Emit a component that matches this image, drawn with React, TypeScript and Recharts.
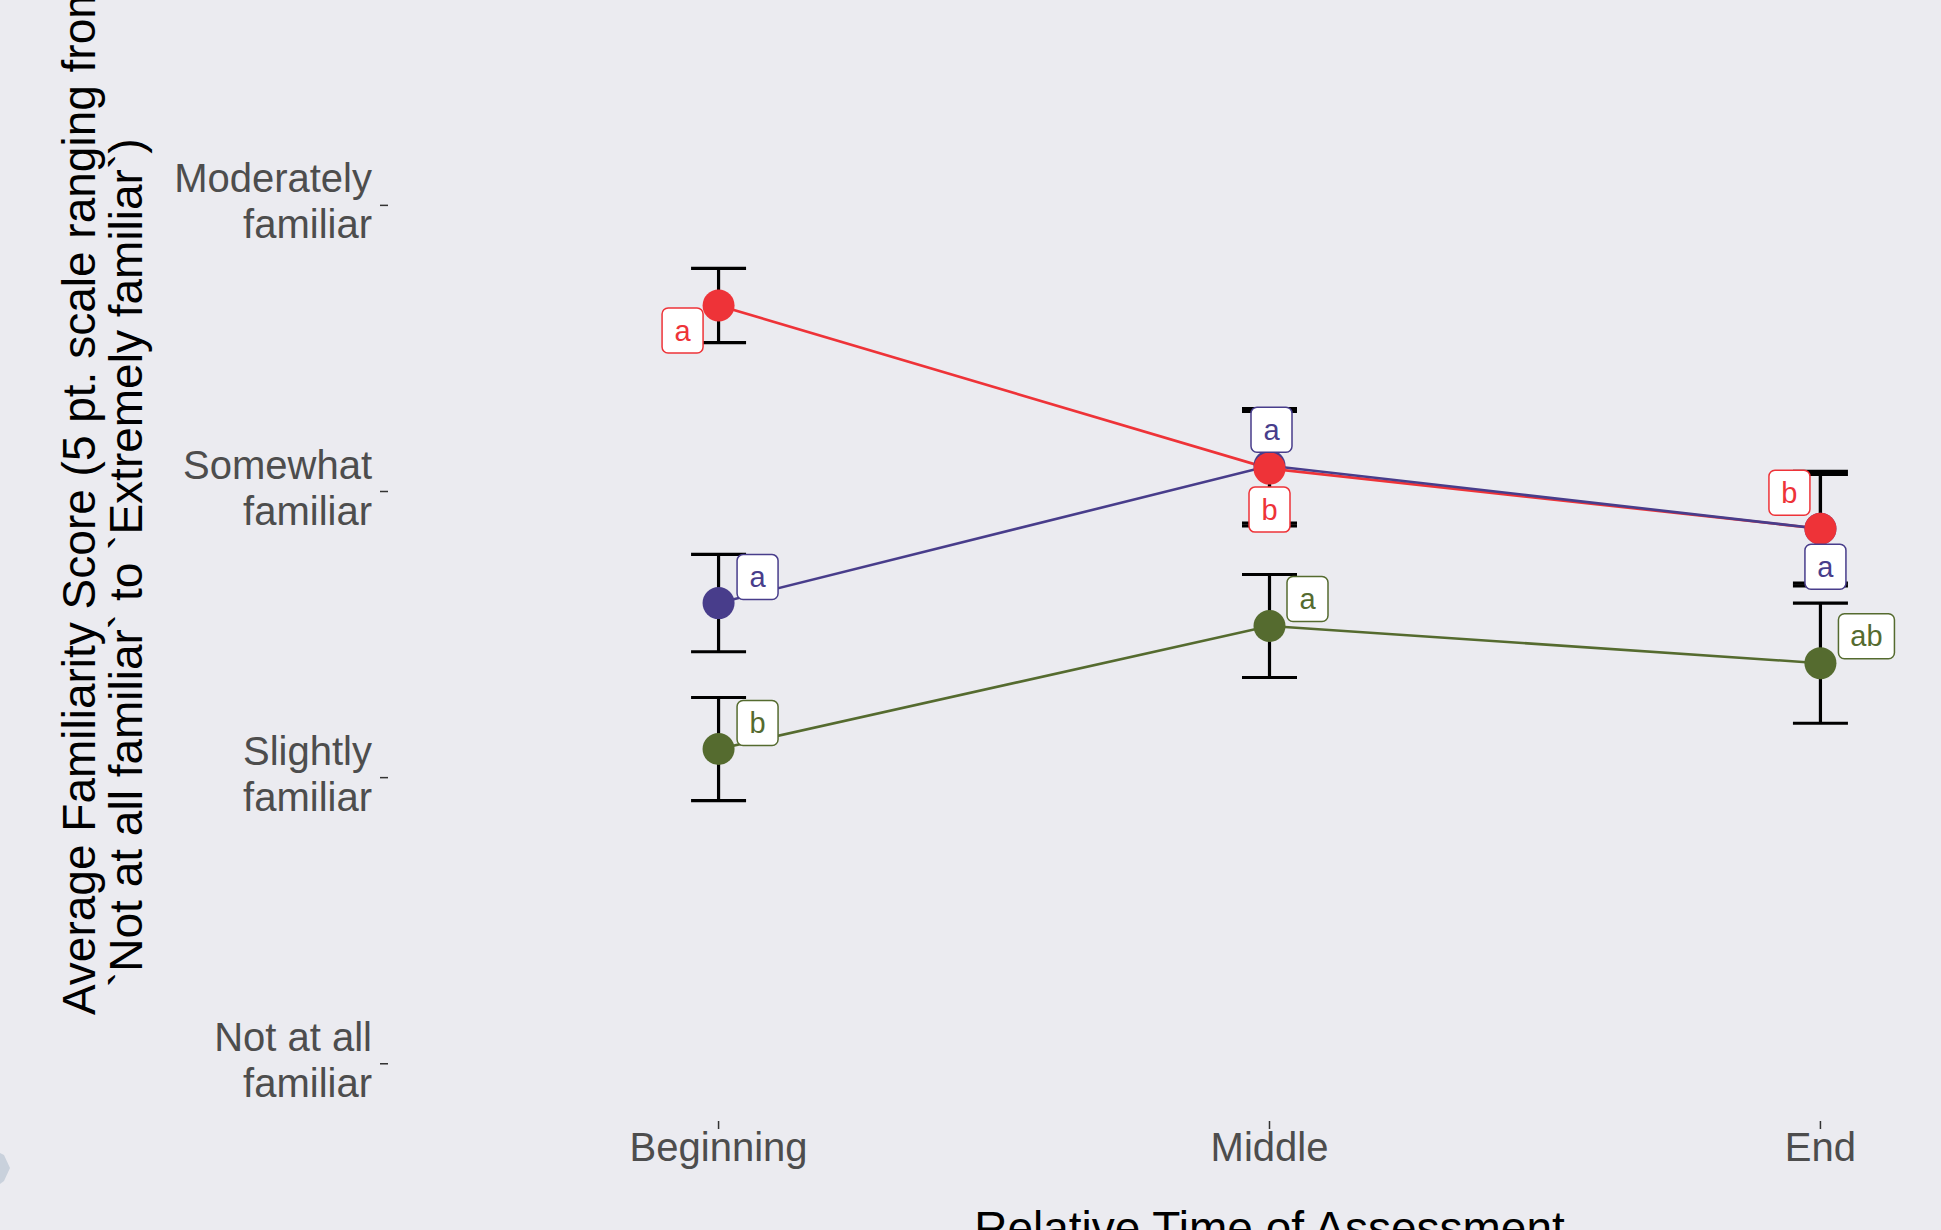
import { ErrorBar, LabelList, Line, LineChart, XAxis, YAxis } from "recharts";

// time points on the x axis
const times = ["Beginning", "Middle", "End"];

// group means and standard errors (5 pt. scale)
const redMean = [3.65, 3.08, 2.87];
const redSe = [0.13, 0.2, 0.19];
const redLetters = ["a", "b", "b"];

const blueMean = [2.61, 3.09, 2.87];
const blueSe = [0.17, 0.2, 0.2];
const blueLetters = ["a", "a", "a"];

const greenMean = [2.1, 2.53, 2.4];
const greenSe = [0.18, 0.18, 0.21];
const greenLetters = ["b", "a", "ab"];

// y scale levels and their labels
const scaleLevels = [1, 2, 3, 4, 5];
const scaleLabels = [
  "Not at all\nfamiliar",
  "Slightly\nfamiliar",
  "Somewhat\nfamiliar",
  "Moderately\nfamiliar",
  "Extremely\nfamiliar",
];

const data = times.map((t, i) => ({
  x: i + 1,
  time: t,
  red: redMean[i],
  redSe: redSe[i],
  redLet: redLetters[i],
  blue: blueMean[i],
  blueSe: blueSe[i],
  blueLet: blueLetters[i],
  green: greenMean[i],
  greenSe: greenSe[i],
  greenLet: greenLetters[i],
}));

const FONT = "'Liberation Sans', Arial, sans-serif";
const BG = "#ebebf0";
const RED = "#ee3338";
const BLUE = "#483d8b";
const GREEN = "#556b2f";

// repelled label placement (pixel nudges from each point)
const nudges: Record<string, [number, number][]> = {
  red: [[-36, 25], [0, 41], [-31, -36]],
  blue: [[39, -26], [2, -36], [5, 38]],
  green: [[39, -26], [38, -27], [46, -27]],
};

const makeLabel = (series: string, color: string) => (props: any) => {
  const vb = props.viewBox || {};
  const px = props.x ?? vb.x;
  const py = props.y ?? vb.y;
  const idx = props.index ?? 0;
  const text = String(props.value ?? "");
  const [dx, dy] = nudges[series][idx];
  const w = text.length > 1 ? 56 : 41;
  const h = 45;
  const cx = px + dx;
  const cy = py + dy;
  return (
    <g>
      <rect x={cx - w / 2} y={cy - h / 2} width={w} height={h} rx={6} fill="#fff" stroke={color} strokeWidth={1.5} />
      <text x={cx} y={cy} dy={10} textAnchor="middle" fill={color} fontSize={29} fontFamily={FONT}>
        {text}
      </text>
    </g>
  );
};

const YTick = (props: any) => {
  const { x, y, payload } = props;
  const lines = scaleLabels[payload.value - 1].split("\n");
  return (
    <text x={x} y={y} textAnchor="end" fill="#4d4d4d" fontSize={40} fontFamily={FONT}>
      <tspan x={x} dy={-13}>{lines[0]}</tspan>
      <tspan x={x} dy={46}>{lines[1]}</tspan>
    </text>
  );
};

const XTick = (props: any) => {
  const { x, y, payload } = props;
  return (
    <text x={x} y={y} dy={32} textAnchor="middle" fill="#4d4d4d" fontSize={40} fontFamily={FONT}>
      {times[payload.value - 1]}
    </text>
  );
};

const XTitle = (props: any) => {
  const vb = props.viewBox || { x: 0, y: 0, width: 0 };
  return (
    <text x={vb.x + vb.width / 2} y={vb.y + 123} textAnchor="middle" fill="#000" fontSize={46} fontFamily={FONT}>
      Relative Time of Assessment
    </text>
  );
};

const YTitle = () => (
  <g>
    <text transform="translate(95,1175) rotate(-90)" textAnchor="start" fill="#000" fontSize={46} fontFamily={FONT}>
      Average Familiarity Score (5 pt. scale ranging from
    </text>
    <text transform="translate(142,1147) rotate(-90)" textAnchor="start" fill="#000" fontSize={46} fontFamily={FONT}>
      `Not at all familiar` to `Extremely familiar`)
    </text>
  </g>
);

const series = [
  { key: "red", color: RED },
  { key: "blue", color: BLUE },
  { key: "green", color: GREEN },
];
const dotOrder = ["blue", "green", "red"];
const labelOrder = ["red", "green", "blue"];
const colorOf = (k: string) => series.find((s) => s.key === k)!.color;

export default function App() {
  return (
    <div style={{ width: 1941, height: 1230, overflow: "hidden", position: "relative", background: BG, fontFamily: FONT }}>
      <style>{"body{margin:0;overflow:hidden}"}</style>
      <div style={{ position: "absolute", left: 0, top: -160 }}>
        <LineChart width={2200} height={1420} data={data} margin={{ top: 22, right: 49, bottom: 0, left: 0 }}>
          <XAxis
            type="number"
            dataKey="x"
            domain={[0.4, 3.6]}
            ticks={[1, 2, 3]}
            height={139}
            axisLine={false}
            tickLine={{ stroke: "#333", strokeWidth: 1.5 }}
            tickSize={8}
            tickMargin={0}
            tick={<XTick />}
            label={<XTitle />}
          />
          <YAxis
            type="number"
            domain={[0.8, 5.2]}
            ticks={scaleLevels}
            width={388}
            axisLine={false}
            tickLine={{ stroke: "#333", strokeWidth: 1.5 }}
            tickSize={8}
            tickMargin={8}
            tick={<YTick />}
            label={<YTitle />}
            allowDataOverflow
          />
          {dotOrder.map((k) => (
            <Line
              key={`dot-${k}`}
              dataKey={k}
              stroke="none"
              dot={{ r: 16, fill: colorOf(k), stroke: colorOf(k), strokeWidth: 0 }}
              activeDot={false}
              isAnimationActive={false}
            />
          ))}
          {series.map((s) => (
            <Line
              key={`line-${s.key}`}
              dataKey={s.key}
              stroke={s.color}
              strokeWidth={2.6}
              dot={false}
              activeDot={false}
              isAnimationActive={false}
            />
          ))}
          {series.map((s) => (
            <Line
              key={`err-${s.key}`}
              dataKey={s.key}
              stroke="none"
              dot={false}
              activeDot={false}
              isAnimationActive={false}
            >
              <ErrorBar dataKey={`${s.key}Se`} direction="y" width={27.5} stroke="#000" strokeWidth={3.2} />
            </Line>
          ))}
          {labelOrder.map((k) => (
            <Line
              key={`lab-${k}`}
              dataKey={k}
              stroke="none"
              dot={false}
              activeDot={false}
              isAnimationActive={false}
            >
              <LabelList dataKey={`${k}Let`} content={makeLabel(k, colorOf(k))} />
            </Line>
          ))}
        </LineChart>
      </div>
      <svg width={12} height={40} style={{ position: "absolute", left: 0, top: 1150 }}>
        <path d="M0,3 L4,5 L10,18 L4,31 L0,34 Z" fill="#c9d1dc" />
      </svg>
    </div>
  );
}
